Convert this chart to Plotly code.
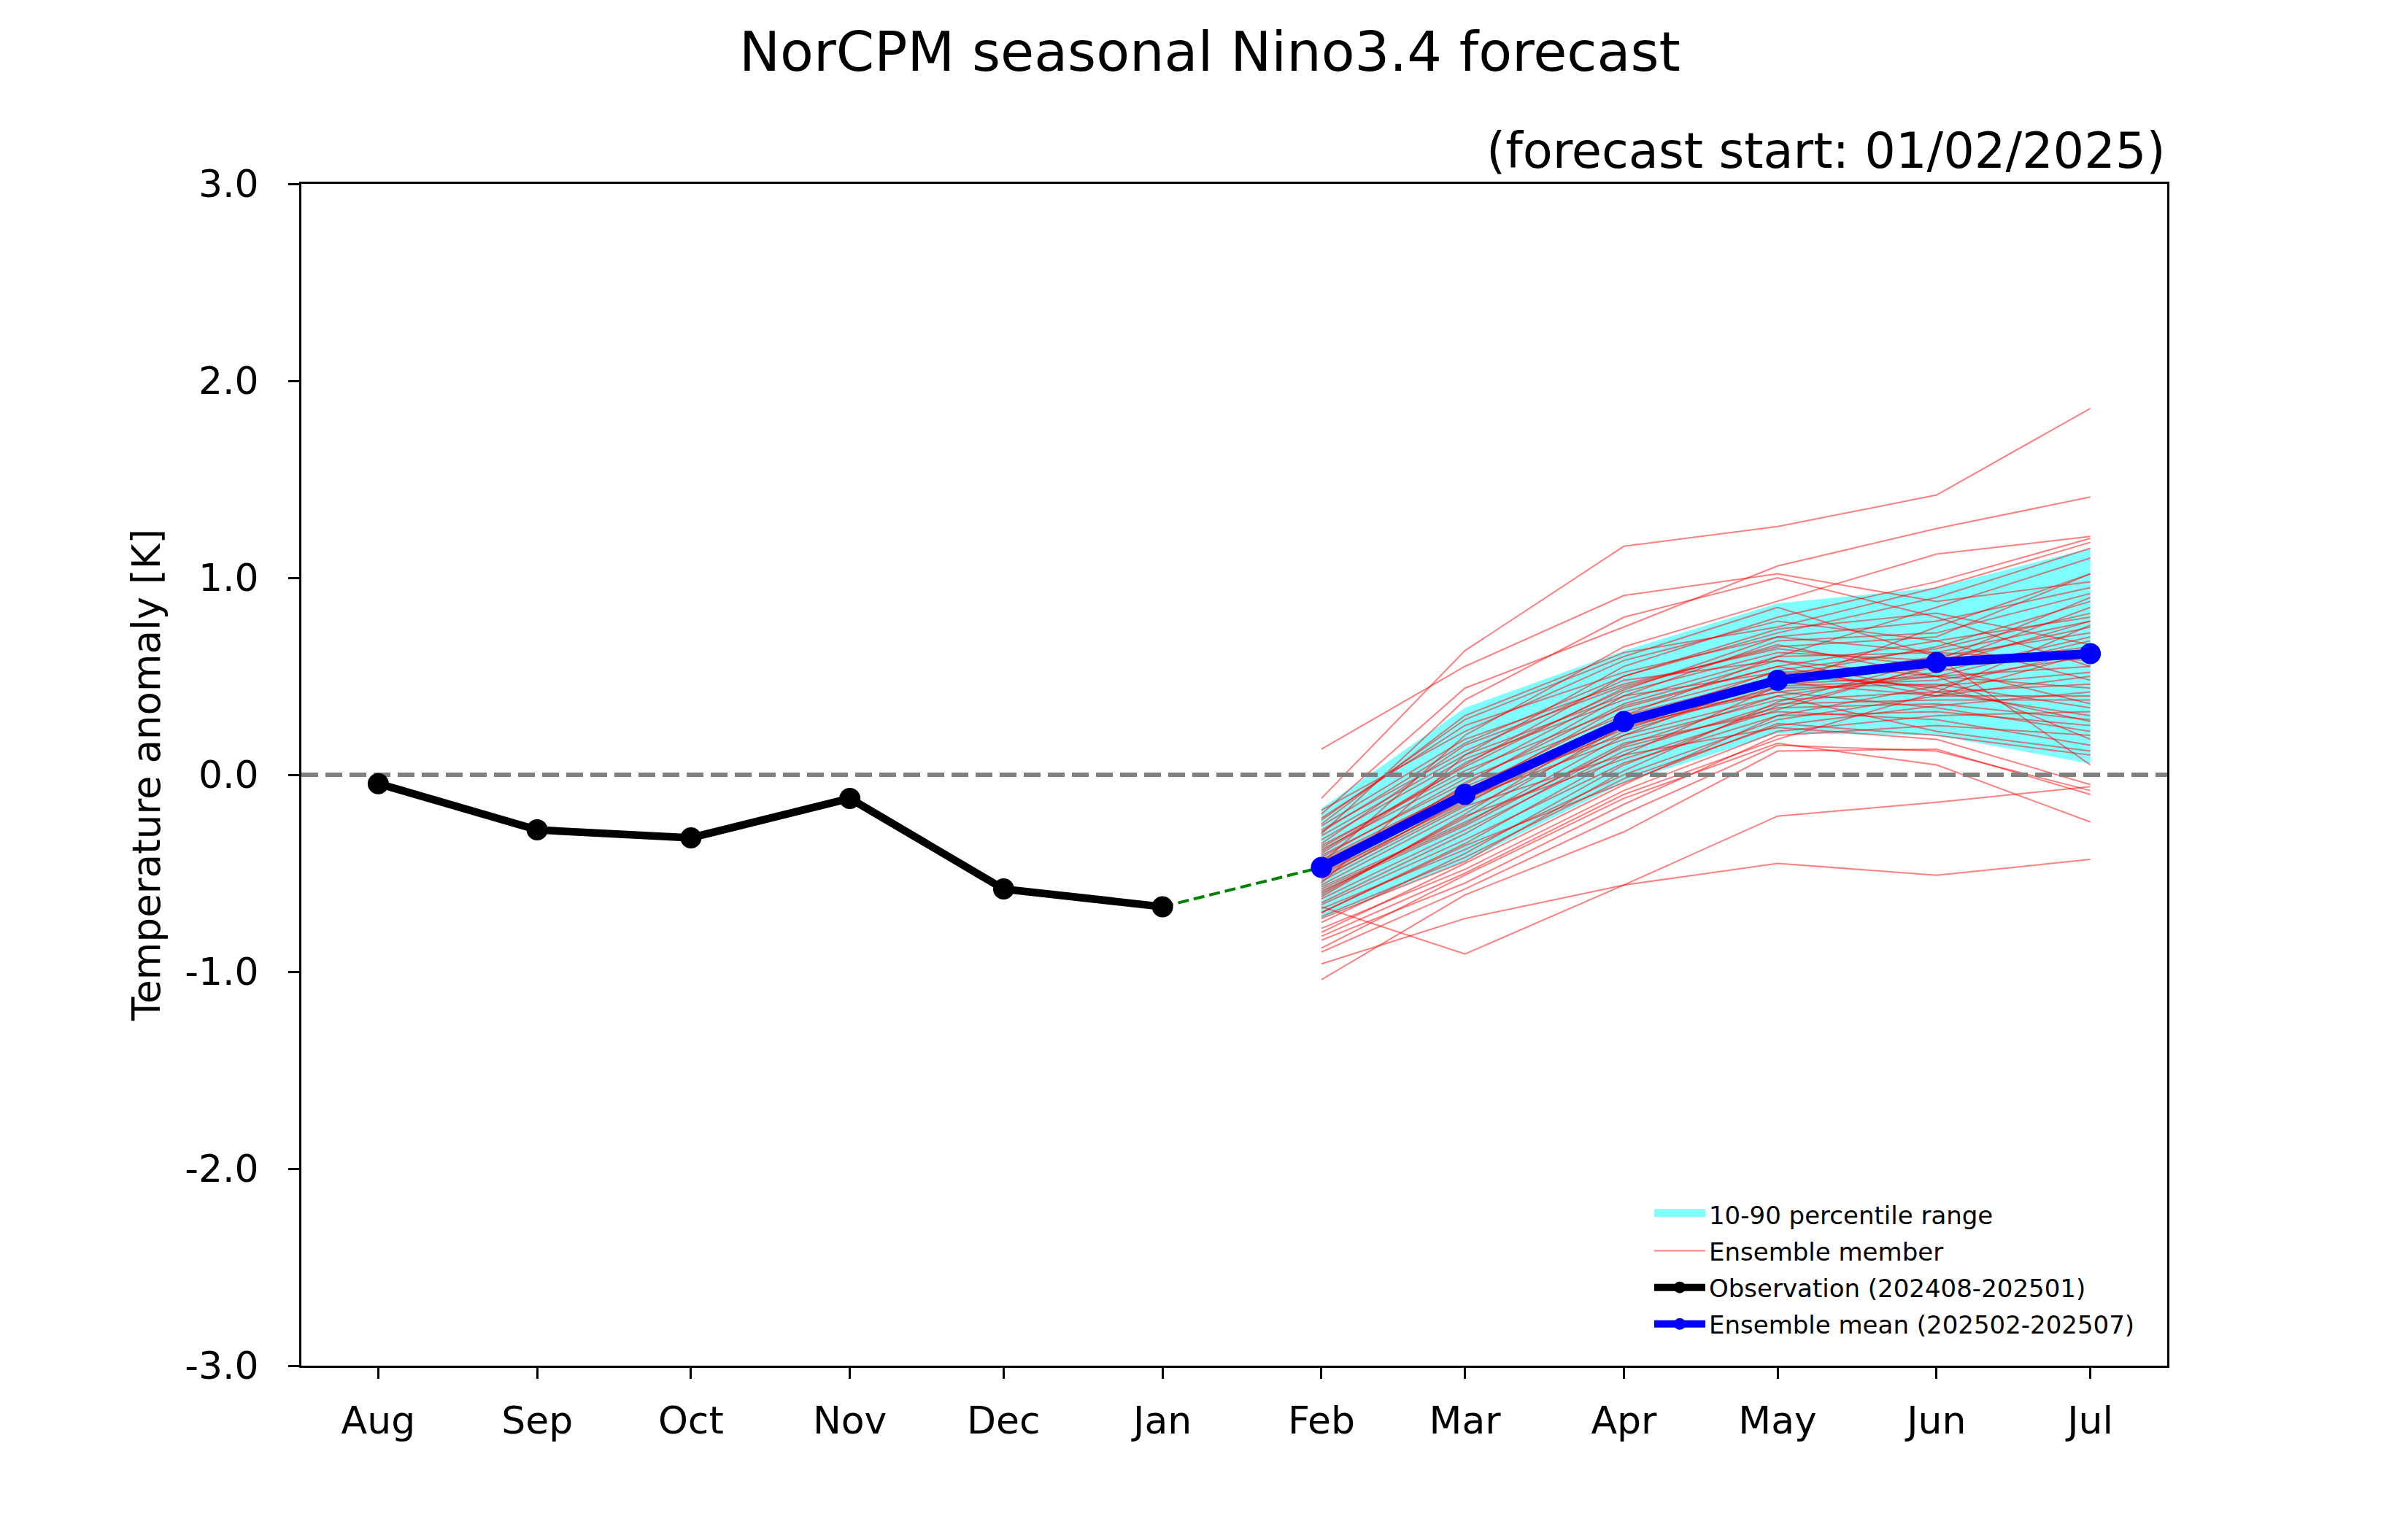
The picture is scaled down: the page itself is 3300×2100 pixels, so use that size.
import plotly.graph_objects as go

# ---------------- data ----------------
obs_dates = ["2024-08-01", "2024-09-01", "2024-10-01", "2024-11-01", "2024-12-01", "2025-01-01"]
obs_values = [-0.045, -0.28, -0.32, -0.12, -0.58, -0.67]

fc_dates = ["2025-02-01", "2025-03-01", "2025-04-01", "2025-05-01", "2025-06-01", "2025-07-01"]
ens_mean = [-0.47, -0.10, 0.27, 0.48, 0.57, 0.615]
p10 = [-0.73, -0.44, -0.04, 0.21, 0.20, 0.056]
p90 = [-0.17, 0.34, 0.63, 0.87, 0.95, 1.15]

# ensemble members: [Feb, Mar, Apr, May, Jun, Jul]
members = [
    [-0.12, 0.63, 1.16, 1.26, 1.42, 1.86],
    [0.13, 0.55, 0.91, 1.02, 0.88, 0.98],
    [-0.20, 0.44, 0.75, 1.06, 1.25, 1.41],
    [-0.96, -0.73, -0.56, -0.45, -0.51, -0.43],
    [-0.67, -0.91, -0.56, -0.21, -0.14, -0.06],
    [-1.04, -0.61, -0.29, 0.12, 0.13, -0.10],
    [-0.88, -0.51, -0.12, 0.16, 0.05, -0.24],
    [-0.30, 0.38, 0.80, 1.00, 0.80, 0.55],
    [-0.45, 0.20, 0.65, 0.88, 1.12, 1.21],
    [-0.55, 0.10, 0.55, 0.80, 0.98, 1.20],
    [-0.25, 0.30, 0.62, 0.75, 0.95, 1.18],
    [-0.40, 0.05, 0.50, 0.72, 0.90, 1.15],
    [-0.62, -0.20, 0.30, 0.60, 0.85, 1.10],
    [-0.35, 0.15, 0.45, 0.65, 0.70, 1.02],
    [-0.70, -0.35, 0.10, 0.45, 0.75, 1.02],
    [-0.50, -0.05, 0.40, 0.68, 0.72, 0.92],
    [-0.58, -0.25, 0.20, 0.50, 0.65, 0.88],
    [-0.22, 0.25, 0.52, 0.70, 0.62, 0.78],
    [-0.48, -0.10, 0.35, 0.55, 0.68, 0.80],
    [-0.75, -0.40, 0.05, 0.35, 0.55, 0.78],
    [-0.38, 0.00, 0.42, 0.62, 0.58, 0.75],
    [-0.52, -0.15, 0.28, 0.48, 0.60, 0.72],
    [-0.65, -0.30, 0.15, 0.40, 0.52, 0.70],
    [-0.28, 0.12, 0.48, 0.58, 0.50, 0.68],
    [-0.44, -0.08, 0.32, 0.52, 0.55, 0.65],
    [-0.80, -0.45, -0.05, 0.30, 0.45, 0.63],
    [-0.56, -0.18, 0.22, 0.45, 0.48, 0.60],
    [-0.33, 0.08, 0.38, 0.60, 0.62, 0.58],
    [-0.60, -0.22, 0.25, 0.42, 0.50, 0.55],
    [-0.42, -0.02, 0.30, 0.50, 0.45, 0.52],
    [-0.68, -0.38, 0.00, 0.28, 0.40, 0.50],
    [-0.18, 0.22, 0.58, 0.78, 0.68, 0.48],
    [-0.53, -0.12, 0.18, 0.38, 0.42, 0.46],
    [-0.46, -0.06, 0.26, 0.46, 0.50, 0.44],
    [-0.72, -0.42, -0.02, 0.25, 0.35, 0.42],
    [-0.36, 0.02, 0.34, 0.55, 0.40, 0.40],
    [-0.63, -0.28, 0.12, 0.36, 0.38, 0.38],
    [-0.26, 0.18, 0.46, 0.64, 0.55, 0.36],
    [-0.50, -0.14, 0.24, 0.44, 0.46, 0.34],
    [-0.78, -0.48, -0.08, 0.22, 0.30, 0.32],
    [-0.41, -0.04, 0.36, 0.58, 0.42, 0.30],
    [-0.57, -0.24, 0.14, 0.34, 0.36, 0.28],
    [-0.31, 0.10, 0.40, 0.52, 0.44, 0.27],
    [-0.66, -0.33, 0.06, 0.30, 0.32, 0.25],
    [-0.47, -0.09, 0.28, 0.42, 0.34, 0.22],
    [-0.84, -0.55, -0.15, 0.20, 0.25, 0.20],
    [-0.37, 0.04, 0.44, 0.66, 0.50, 0.18],
    [-0.59, -0.26, 0.16, 0.32, 0.28, 0.15],
    [-0.43, -0.07, 0.20, 0.40, 0.22, 0.12],
    [-0.70, -0.36, -0.04, 0.26, 0.20, 0.10],
    [-0.23, 0.28, 0.60, 0.85, 0.60, 0.05],
    [-0.54, -0.16, 0.10, 0.24, 0.18, -0.05],
    [-0.90, -0.58, -0.20, 0.15, 0.12, -0.08],
    [-0.49, -0.11, 0.23, 0.47, 0.40, 0.62],
    [-0.61, -0.21, 0.08, 0.33, 0.56, 0.85],
    [-0.39, 0.06, 0.43, 0.70, 0.78, 0.95],
    [-0.82, -0.50, -0.10, 0.18, 0.42, 0.76],
    [-0.29, 0.16, 0.50, 0.74, 0.82, 0.66],
    [-0.73, -0.44, 0.02, 0.37, 0.58, 0.90],
    [-0.51, -0.13, 0.26, 0.53, 0.64, 0.82],
]

month_labels = ["Aug", "Sep", "Oct", "Nov", "Dec", "Jan", "Feb", "Mar", "Apr", "May", "Jun", "Jul"]
y_tick_values = [-3, -2, -1, 0, 1, 2, 3]
y_tick_labels = ["-3.0", "-2.0", "-1.0", "0.0", "1.0", "2.0", "3.0"]
x_range = ["2024-07-17", "2025-07-16"]
y_range = [-3, 3]

title_text = "NorCPM seasonal Nino3.4 forecast"
subtitle_text = "(forecast start: 01/02/2025)"
ylabel_text = "Temperature anomaly [K]"

FONT = "DejaVu Sans"
BAND_COLOR = "rgba(0,255,255,0.5)"

fig = go.Figure()

# 10-90 percentile band
fig.add_trace(go.Scatter(
    x=fc_dates, y=p10, mode="lines", line=dict(width=0, color="rgba(0,255,255,0)"),
    showlegend=False, hoverinfo="skip"))
fig.add_trace(go.Scatter(
    x=fc_dates, y=p90, mode="lines", line=dict(width=0, color="rgba(0,255,255,0)"),
    fill="tonexty", fillcolor=BAND_COLOR, showlegend=False, hoverinfo="skip"))
# legend entry for the band (legend-only, no data drawn)
fig.add_trace(go.Scatter(
    x=[None], y=[None], mode="lines", fill="toself", fillcolor="#80ffff",
    line=dict(width=10, color="#80ffff"),
    name="10-90 percentile range", legendgroup="a", legendrank=1))

# ensemble members
for i, m in enumerate(members):
    fig.add_trace(go.Scatter(
        x=fc_dates, y=m, mode="lines",
        line=dict(color="rgba(255,0,0,0.5)", width=2),
        name="Ensemble member", legendgroup="b", legendrank=2,
        showlegend=(i == 0)))

# zero line (axhline)
fig.add_trace(go.Scatter(
    x=x_range, y=[0, 0], mode="lines",
    line=dict(color="#808080", width=6, dash="23px,10px"),
    showlegend=False, hoverinfo="skip"))

# connector Jan obs -> Feb mean
fig.add_trace(go.Scatter(
    x=[obs_dates[-1], fc_dates[0]], y=[obs_values[-1], ens_mean[0]], mode="lines",
    line=dict(color="green", width=4, dash="15px,7px"),
    showlegend=False, hoverinfo="skip"))

# observations
fig.add_trace(go.Scatter(
    x=obs_dates, y=obs_values, mode="lines+markers",
    line=dict(color="black", width=10.5), marker=dict(color="black", size=29),
    name="Observation (202408-202501)", legendgroup="c", legendrank=3))

# ensemble mean
fig.add_trace(go.Scatter(
    x=fc_dates, y=ens_mean, mode="lines+markers",
    line=dict(color="blue", width=12.5), marker=dict(color="blue", size=29),
    name="Ensemble mean (202502-202507)", legendgroup="d", legendrank=4))

fig.update_layout(
    width=3300, height=2100,
    margin=dict(l=405, r=338, t=244, b=236, autoexpand=False),
    paper_bgcolor="white", plot_bgcolor="white",
    font=dict(family=FONT, color="black", size=52),
    title=dict(text=title_text, font=dict(size=75, family=FONT, color="black"),
               x=0.5, xref="container", xanchor="center",
               y=1 - 63 / 2100, yref="container", yanchor="middle"),
    legend=dict(x=0.7231, xanchor="left", y=0.0175, yanchor="bottom",
                font=dict(size=34, family=FONT), bgcolor="rgba(0,0,0,0)",
                borderwidth=0, itemwidth=70, tracegroupgap=3,
                traceorder="grouped"),
    annotations=[dict(text=subtitle_text, xref="paper", yref="paper",
                      x=1, y=1.028, xanchor="right", yanchor="middle",
                      showarrow=False, font=dict(size=67, family=FONT, color="black"))],
)

fig.update_xaxes(
    type="date", range=x_range,
    tickvals=obs_dates + fc_dates, ticktext=month_labels,
    showgrid=False, zeroline=False,
    showline=True, linecolor="black", linewidth=3, mirror=True,
    ticks="outside", ticklen=15, tickwidth=3, tickcolor="black",
    tickfont=dict(size=52, family=FONT), ticklabelstandoff=13)

fig.update_yaxes(
    range=y_range, tickvals=y_tick_values, ticktext=y_tick_labels,
    showgrid=False, zeroline=False,
    showline=True, linecolor="black", linewidth=3, mirror=True,
    ticks="outside", ticklen=15, tickwidth=3, tickcolor="black",
    tickfont=dict(size=52, family=FONT), ticklabelstandoff=30,
    title=dict(text=ylabel_text, font=dict(size=53, family=FONT), standoff=17))

fig.write_html("out.html")
